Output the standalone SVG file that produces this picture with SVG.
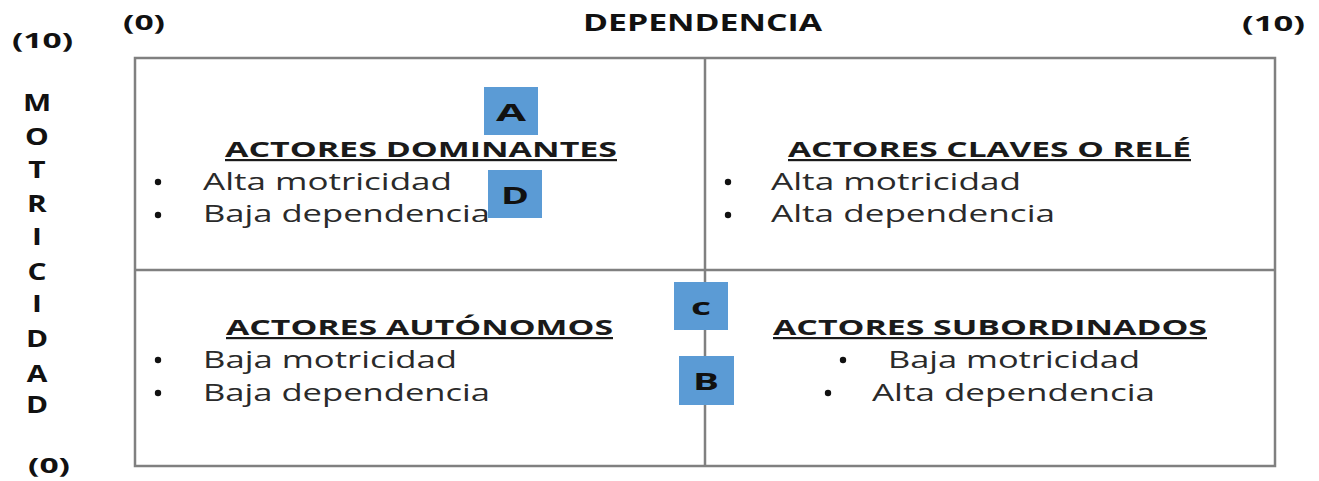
<svg xmlns="http://www.w3.org/2000/svg" width="1319" height="481" viewBox="0 0 1319 481">
<style>
.ax{font-family:"Open Sans","Liberation Sans",sans-serif;font-weight:bold;fill:#111;}
.t{font-family:"Open Sans","Liberation Sans",sans-serif;font-weight:bold;font-size:22px;fill:#1a1a1a;text-decoration:underline;}
.b{font-family:"Open Sans","Liberation Sans",sans-serif;font-size:24px;fill:#2a2a2a;}
.dot{fill:#111;}
.grid{stroke:#808080;stroke-width:2.5;fill:none;}
.tag{fill:#5b9bd5;}
.tl{font-family:"Open Sans","Liberation Sans",sans-serif;font-weight:bold;font-size:24px;fill:#111;text-anchor:middle;}
</style>
<g id="axes">
<text class="ax" x="123" y="30" font-size="22" textLength="42" lengthAdjust="spacingAndGlyphs">(0)</text>
<text class="ax" x="583" y="31" font-size="24" textLength="239" lengthAdjust="spacingAndGlyphs">DEPENDENCIA</text>
<text class="ax" x="1242" y="31" font-size="22" textLength="63" lengthAdjust="spacingAndGlyphs">(10)</text>
<text class="ax" x="12" y="48" font-size="22" textLength="61" lengthAdjust="spacingAndGlyphs">(10)</text>
<g font-size="23" text-anchor="middle" transform="translate(37,0) scale(1.3,1) translate(-37,0)">
<text class="ax" x="37" y="111">M</text>
<text class="ax" x="37" y="145">O</text>
<text class="ax" x="37" y="178">T</text>
<text class="ax" x="37" y="212">R</text>
<text class="ax" x="37" y="245">I</text>
<text class="ax" x="37" y="280">C</text>
<text class="ax" x="37" y="312">I</text>
<text class="ax" x="37" y="347">D</text>
<text class="ax" x="37" y="382">A</text>
<text class="ax" x="37" y="413">D</text>
</g>
<text class="ax" x="28" y="473" font-size="22" textLength="42" lengthAdjust="spacingAndGlyphs">(0)</text>
</g>
<g id="grid">
<rect class="grid" x="135" y="58" width="1140" height="408"/>
<line class="grid" x1="705" y1="58" x2="705" y2="466"/>
<line class="grid" x1="135" y1="270" x2="1275" y2="270"/>
</g>
<g id="q-dominantes">
<text class="t" x="225" y="157" textLength="392" lengthAdjust="spacingAndGlyphs">ACTORES DOMINANTES</text>
<circle class="dot" cx="158" cy="182" r="3.2"/>
<text class="b" x="203" y="190" textLength="249" lengthAdjust="spacingAndGlyphs">Alta motricidad</text>
<circle class="dot" cx="158" cy="215" r="3.2"/>
<text class="b" x="203" y="222" textLength="287" lengthAdjust="spacingAndGlyphs">Baja dependencia</text>
</g>
<g id="q-claves">
<text class="t" x="788" y="157" textLength="403" lengthAdjust="spacingAndGlyphs">ACTORES CLAVES O RELÉ</text>
<circle class="dot" cx="728" cy="182" r="3.2"/>
<text class="b" x="771" y="190" textLength="250" lengthAdjust="spacingAndGlyphs">Alta motricidad</text>
<circle class="dot" cx="728" cy="215" r="3.2"/>
<text class="b" x="771" y="222" textLength="284" lengthAdjust="spacingAndGlyphs">Alta dependencia</text>
</g>
<g id="q-autonomos">
<text class="t" x="226" y="335" textLength="387" lengthAdjust="spacingAndGlyphs">ACTORES AUTÓNOMOS</text>
<circle class="dot" cx="158" cy="360" r="3.2"/>
<text class="b" x="203" y="368" textLength="254" lengthAdjust="spacingAndGlyphs">Baja motricidad</text>
<circle class="dot" cx="158" cy="393" r="3.2"/>
<text class="b" x="203" y="401" textLength="287" lengthAdjust="spacingAndGlyphs">Baja dependencia</text>
</g>
<g id="q-subordinados">
<text class="t" x="773" y="335" textLength="434" lengthAdjust="spacingAndGlyphs">ACTORES SUBORDINADOS</text>
<circle class="dot" cx="843" cy="360" r="3.2"/>
<text class="b" x="888" y="368" textLength="252" lengthAdjust="spacingAndGlyphs">Baja motricidad</text>
<circle class="dot" cx="828" cy="393" r="3.2"/>
<text class="b" x="872" y="401" textLength="283" lengthAdjust="spacingAndGlyphs">Alta dependencia</text>
</g>
<g id="tag-A"><rect class="tag" x="484" y="87" width="54" height="48"/><text class="tl" x="511" y="121" textLength="30" lengthAdjust="spacingAndGlyphs">A</text></g>
<g id="tag-D"><rect class="tag" x="488" y="170" width="54" height="48"/><text class="tl" x="515" y="204" textLength="28" lengthAdjust="spacingAndGlyphs">D</text></g>
<g id="tag-C"><rect class="tag" x="674" y="282" width="54" height="48"/><text class="tl" x="701" y="315" font-size="21" textLength="20" lengthAdjust="spacingAndGlyphs">c</text></g>
<g id="tag-B"><rect class="tag" x="679" y="356" width="55" height="49"/><text class="tl" x="706" y="390" textLength="26" lengthAdjust="spacingAndGlyphs">B</text></g>
</svg>
